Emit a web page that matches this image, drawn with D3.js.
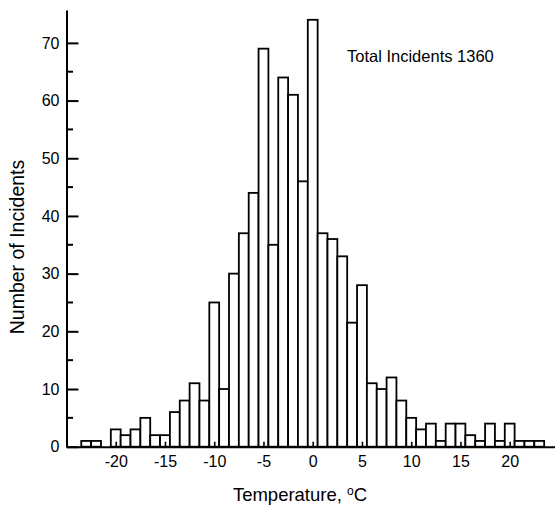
<!DOCTYPE html>
<html>
<head>
<meta charset="utf-8">
<script src="https://cdn.jsdelivr.net/npm/d3@7"></script>
<style>
  body { margin: 0; background: #fff; }
  svg text { font-family: "Liberation Sans", Arial, sans-serif; fill: #000; }
</style>
</head>
<body>
<div id="chart"></div>
<script>
// bin centres (deg C) and counts
const temps = d3.range(-23, 24);
const counts = [
  1, 1, 0, 3, 2, 3, 5, 2, 2, 6, 8, 11, 8, 25, 10, 30, 37, 44, 69, 35, 64, 61, 46,
  74, 37, 36, 33, 21.5, 28,
  11, 10, 12, 8, 5, 3, 4, 1, 4, 4, 2, 1, 4, 1, 4, 1, 1, 1
];
const xTicks = [-20, -15, -10, -5, 0, 5, 10, 15, 20];
const yMajor = [0, 10, 20, 30, 40, 50, 60, 70];
const yMinor = [5, 15, 25, 35, 45, 55, 65];
const totalLabel = "Total Incidents 1360";

const width = 555, height = 508;

const svg = d3.select("#chart").append("svg")
  .attr("width", width)
  .attr("height", height);

const x = d3.scaleLinear().domain([-25, 24.6]).range([66.5, 555]);
const y = d3.scaleLinear().domain([0, 75.7]).range([446.7, 10]);

const data = temps.map((t, i) => ({ t: t, n: counts[i] }));

// bars, one unit wide and centred on each temperature
svg.append("g").selectAll("rect")
  .data(data.filter(d => d.n > 0))
  .enter().append("rect")
  .attr("x", d => x(d.t - 0.5))
  .attr("y", d => y(d.n))
  .attr("width", d => x(d.t + 0.5) - x(d.t - 0.5))
  .attr("height", d => y(0) - y(d.n))
  .attr("fill", "#fff")
  .attr("stroke", "#000")
  .attr("stroke-width", 1.8);

// x axis, ticks point up into the plot
const xAxis = svg.append("g")
  .attr("transform", `translate(0,${y(0)})`)
  .call(d3.axisBottom(x).tickValues(xTicks).tickSize(-5).tickSizeOuter(0)
    .tickPadding(9).tickFormat(d => String(d)));
xAxis.select(".domain").attr("stroke-width", 2);
xAxis.selectAll(".tick line").attr("stroke-width", 1.6);
xAxis.selectAll("text").attr("font-size", 16).attr("font-family", null);

// y axis, major and minor ticks point right
const yAxis = svg.append("g")
  .attr("transform", `translate(${x(-25)},0)`)
  .call(d3.axisLeft(y).tickValues(yMajor).tickSize(-12).tickSizeOuter(0)
    .tickPadding(7).tickFormat(d => String(d)));
yAxis.select(".domain").attr("stroke-width", 2);
yAxis.selectAll(".tick line").attr("stroke-width", 2);
yAxis.selectAll("text").attr("font-size", 16).attr("font-family", null);

svg.append("g")
  .attr("transform", `translate(${x(-25)},0)`)
  .selectAll("line")
  .data(yMinor)
  .enter().append("line")
  .attr("x1", 0).attr("x2", 6.5)
  .attr("y1", d => y(d)).attr("y2", d => y(d))
  .attr("stroke", "#000")
  .attr("stroke-width", 2);

// titles
const xt = svg.append("text")
  .attr("x", 300).attr("y", 501)
  .attr("text-anchor", "middle")
  .attr("font-size", 18.5);
xt.append("tspan").text("Temperature, ");
xt.append("tspan").attr("font-size", 12).attr("dy", -6).text("o");
xt.append("tspan").attr("dy", 6).text("C");

svg.append("text")
  .attr("transform", "translate(24,247) rotate(-90)")
  .attr("text-anchor", "middle")
  .attr("font-size", 19.5)
  .text("Number of Incidents");

svg.append("text")
  .attr("x", 347).attr("y", 61.5)
  .attr("font-size", 16.5)
  .text(totalLabel);
</script>
</body>
</html>
